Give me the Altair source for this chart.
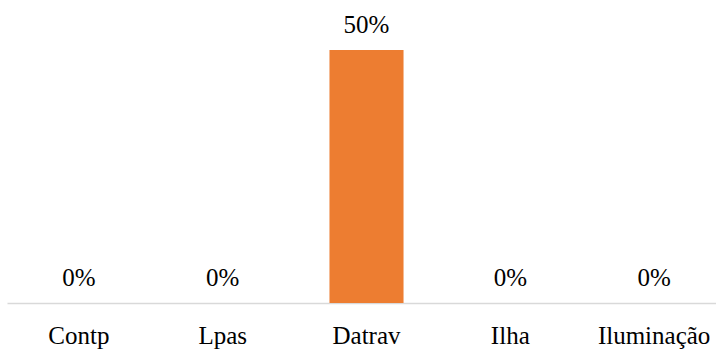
import altair as alt
import pandas as pd

categories = ["Contp", "Lpas", "Datrav", "Ilha", "Iluminação"]
values = [0.0, 0.0, 0.5, 0.0, 0.0]
labels = ["0%", "0%", "50%", "0%", "0%"]

df = pd.DataFrame({"cat": categories, "val": values, "lab": labels})

FONT = "Liberation Serif, Times New Roman, serif"
FS = 25

xscale = alt.Scale(range=[0, 719], paddingInner=0.485, paddingOuter=0.2425)
x = alt.X("cat:N", sort=categories, scale=xscale,
          axis=alt.Axis(title=None, labelAngle=0, labelFont=FONT, labelFontSize=FS,
                        labelColor="#000000", ticks=False, labelPadding=40,
                        labelBaseline="alphabetic", labelLimit=300,
                        domainColor="#d9d9d9", domainWidth=1.5, grid=False))
y = alt.Y("val:Q", scale=alt.Scale(domain=[0, 0.5]), axis=None)

bars = alt.Chart(df).mark_bar(color="#ED7D31").encode(x=x, y=y)
text = alt.Chart(df).mark_text(font=FONT, fontSize=FS, color="#000000",
                               baseline="alphabetic", dy=-17).encode(
    x=alt.X("cat:N", sort=categories), y=y, text="lab:N")

chart = (bars + text).properties(
    width=709, height=253,
    background="white",
    autosize=alt.AutoSizeParams(type="none"),
    padding={"left": 7, "top": 50, "right": 0, "bottom": 46},
).configure_view(stroke=None, strokeWidth=0)

chart.save("out.html", embed_options={"renderer": "svg", "actions": False})
